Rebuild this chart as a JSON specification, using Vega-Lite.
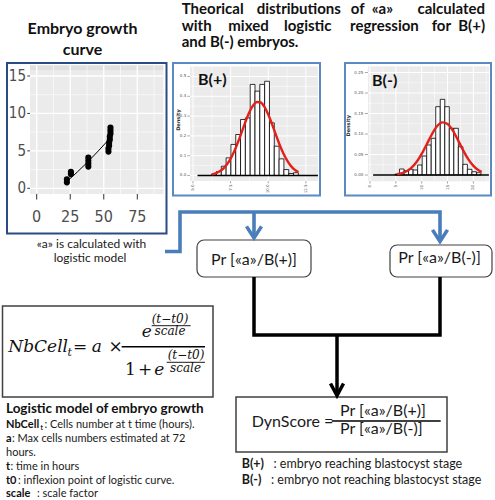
{
"$schema":"https://vega.github.io/schema/vega-lite/v6.json",
"width":495,"height":500,"padding":0,
"autosize":{"type":"none"},
"background":"#ffffff",
"config":{"view":{"stroke":null},"axis":{"disable":true}},
"datasets":{
"g_panel":[{"hours":-5,"hours2":94.5,"cells":-0.75,"cells2":15.75}],
"g_strip":[{"hours":-5,"hours2":94.5,"cells":15.75,"cells2":16.45}],
"g_grid":[
{"level":"minor","hours":12.5,"hours2":12.5,"cells":-0.75,"cells2":16.45},
{"level":"minor","hours":37.5,"hours2":37.5,"cells":-0.75,"cells2":16.45},
{"level":"minor","hours":62.5,"hours2":62.5,"cells":-0.75,"cells2":16.45},
{"level":"minor","hours":87.5,"hours2":87.5,"cells":-0.75,"cells2":16.45},
{"level":"minor","hours":-5,"hours2":94.5,"cells":2.5,"cells2":2.5},
{"level":"minor","hours":-5,"hours2":94.5,"cells":7.5,"cells2":7.5},
{"level":"minor","hours":-5,"hours2":94.5,"cells":12.5,"cells2":12.5},
{"level":"major","hours":0,"hours2":0,"cells":-0.75,"cells2":16.45},
{"level":"major","hours":25,"hours2":25,"cells":-0.75,"cells2":16.45},
{"level":"major","hours":50,"hours2":50,"cells":-0.75,"cells2":16.45},
{"level":"major","hours":75,"hours2":75,"cells":-0.75,"cells2":16.45},
{"level":"major","hours":-5,"hours2":94.5,"cells":0,"cells2":0},
{"level":"major","hours":-5,"hours2":94.5,"cells":5,"cells2":5},
{"level":"major","hours":-5,"hours2":94.5,"cells":10,"cells2":10},
{"level":"major","hours":-5,"hours2":94.5,"cells":15,"cells2":15},
{"level":"tick","hours":-7,"hours2":-5,"cells":0,"cells2":0},
{"level":"tick","hours":-7,"hours2":-5,"cells":5,"cells2":5},
{"level":"tick","hours":-7,"hours2":-5,"cells":10,"cells2":10},
{"level":"tick","hours":-7,"hours2":-5,"cells":15,"cells2":15},
{"level":"tick","hours":0,"hours2":0,"cells":-0.75,"cells2":-1.5},
{"level":"tick","hours":25,"hours2":25,"cells":-0.75,"cells2":-1.5},
{"level":"tick","hours":50,"hours2":50,"cells":-0.75,"cells2":-1.5},
{"level":"tick","hours":75,"hours2":75,"cells":-0.75,"cells2":-1.5}],
"g_ylab":[{"hours":-8,"cells":0,"label":"0"},{"hours":-8,"cells":5,"label":"5"},{"hours":-8,"cells":10,"label":"10"},{"hours":-8,"cells":15,"label":"15"}],
"g_xlab":[{"hours":0,"cells":-3.9,"label":"0"},{"hours":25,"cells":-3.9,"label":"25"},{"hours":50,"cells":-3.9,"label":"50"},{"hours":75,"cells":-3.9,"label":"75"}],
"g_fit":[{"hours":22.5,"cells":0.9},{"hours":38.5,"cells":3.6},{"hours":54.7,"cells":6.7}],
"g_points":[
{"hours":22.5,"cells":0.8},{"hours":22.5,"cells":1.2},{"hours":25.5,"cells":1.9},{"hours":25.5,"cells":2.2},
{"hours":38.5,"cells":2.9},{"hours":38.5,"cells":3.3},{"hours":38.5,"cells":3.7},{"hours":38.5,"cells":4.1},
{"hours":53.5,"cells":4.9},{"hours":53.5,"cells":5.3},{"hours":54,"cells":5.7},{"hours":54,"cells":6.1},
{"hours":54.5,"cells":6.5},{"hours":54.5,"cells":6.9},{"hours":55,"cells":7.3},{"hours":55,"cells":7.7},{"hours":55,"cells":8.1}],
"bp_panel":[{"a":4.8,"a2":13.3,"density":-0.028,"density2":0.55}],
"bp_grid":[
{"level":"minor","a":6.25,"a2":6.25,"density":-0.028,"density2":0.55},
{"level":"minor","a":8.75,"a2":8.75,"density":-0.028,"density2":0.55},
{"level":"minor","a":11.25,"a2":11.25,"density":-0.028,"density2":0.55},
{"level":"minor","a":4.8,"a2":13.3,"density":0.05,"density2":0.05},
{"level":"minor","a":4.8,"a2":13.3,"density":0.15,"density2":0.15},
{"level":"minor","a":4.8,"a2":13.3,"density":0.25,"density2":0.25},
{"level":"minor","a":4.8,"a2":13.3,"density":0.35,"density2":0.35},
{"level":"minor","a":4.8,"a2":13.3,"density":0.45,"density2":0.45},
{"level":"major","a":5,"a2":5,"density":-0.028,"density2":0.55},
{"level":"major","a":7.5,"a2":7.5,"density":-0.028,"density2":0.55},
{"level":"major","a":10,"a2":10,"density":-0.028,"density2":0.55},
{"level":"major","a":12.5,"a2":12.5,"density":-0.028,"density2":0.55},
{"level":"major","a":4.8,"a2":13.3,"density":0,"density2":0},
{"level":"major","a":4.8,"a2":13.3,"density":0.1,"density2":0.1},
{"level":"major","a":4.8,"a2":13.3,"density":0.2,"density2":0.2},
{"level":"major","a":4.8,"a2":13.3,"density":0.3,"density2":0.3},
{"level":"major","a":4.8,"a2":13.3,"density":0.4,"density2":0.4},
{"level":"major","a":4.8,"a2":13.3,"density":0.5,"density2":0.5},
{"level":"tick","a":4.62,"a2":4.8,"density":0,"density2":0},
{"level":"tick","a":4.62,"a2":4.8,"density":0.1,"density2":0.1},
{"level":"tick","a":4.62,"a2":4.8,"density":0.2,"density2":0.2},
{"level":"tick","a":4.62,"a2":4.8,"density":0.3,"density2":0.3},
{"level":"tick","a":4.62,"a2":4.8,"density":0.4,"density2":0.4},
{"level":"tick","a":4.62,"a2":4.8,"density":0.5,"density2":0.5},
{"level":"tick","a":5,"a2":5,"density":-0.028,"density2":-0.04},
{"level":"tick","a":7.5,"a2":7.5,"density":-0.028,"density2":-0.04},
{"level":"tick","a":10,"a2":10,"density":-0.028,"density2":-0.04},
{"level":"tick","a":12.5,"a2":12.5,"density":-0.028,"density2":-0.04}],
"bp_ylab":[{"a":4.55,"density":0,"label":"0.0"},{"a":4.55,"density":0.1,"label":"0.1"},{"a":4.55,"density":0.2,"label":"0.2"},{"a":4.55,"density":0.3,"label":"0.3"},{"a":4.55,"density":0.4,"label":"0.4"},{"a":4.55,"density":0.5,"label":"0.5"}],
"bp_xlab":[{"a":5,"density":-0.045,"label":"5.0"},{"a":7.5,"density":-0.045,"label":"7.5"},{"a":10,"density":-0.045,"label":"10.0"},{"a":12.5,"density":-0.045,"label":"12.5"}],
"bp_ytitle":[{"a":4.0,"density":0.28,"label":"Density"}],
"bp_bins":[
{"a":6.24,"a2":6.56,"density":0.007},{"a":6.56,"a2":6.88,"density":0.02},{"a":6.88,"a2":7.2,"density":0.047},
{"a":7.2,"a2":7.52,"density":0.089},{"a":7.52,"a2":7.84,"density":0.157},{"a":7.84,"a2":8.16,"density":0.207},
{"a":8.16,"a2":8.48,"density":0.283},{"a":8.48,"a2":8.8,"density":0.291},{"a":8.8,"a2":9.12,"density":0.46},
{"a":9.12,"a2":9.44,"density":0.426},{"a":9.44,"a2":9.76,"density":0.46},{"a":9.76,"a2":10.08,"density":0.476},
{"a":10.08,"a2":10.4,"density":0.266},{"a":10.4,"a2":10.72,"density":0.148},{"a":10.72,"a2":11.04,"density":0.084},
{"a":11.04,"a2":11.36,"density":0.03},{"a":11.36,"a2":11.68,"density":0.01},{"a":11.68,"a2":12.0,"density":0.014}],
"bp_base":[{"a":5.3,"a2":13.3,"density":0,"density2":0}],
"bp_curve":[
{"a":6.25,"density":0.0058},{"a":6.5,"density":0.011},{"a":6.75,"density":0.0199},{"a":7.0,"density":0.0341},
{"a":7.25,"density":0.0553},{"a":7.5,"density":0.085},{"a":7.75,"density":0.1236},{"a":8.0,"density":0.1702},
{"a":8.25,"density":0.2219},{"a":8.5,"density":0.274},{"a":8.75,"density":0.3202},{"a":9.0,"density":0.3545},
{"a":9.25,"density":0.3715},{"a":9.5,"density":0.3687},{"a":9.75,"density":0.3464},{"a":10.0,"density":0.3082},
{"a":10.25,"density":0.2597},{"a":10.5,"density":0.2071},{"a":10.75,"density":0.1565},{"a":11.0,"density":0.112},
{"a":11.25,"density":0.0758},{"a":11.5,"density":0.0486},{"a":11.75,"density":0.0295},{"a":12.0,"density":0.017}],
"bm_panel":[{"a":-0.4,"a2":23.0,"density":-0.015,"density2":0.265}],
"bm_grid":[
{"level":"minor","a":2.5,"a2":2.5,"density":-0.015,"density2":0.265},
{"level":"minor","a":7.5,"a2":7.5,"density":-0.015,"density2":0.265},
{"level":"minor","a":12.5,"a2":12.5,"density":-0.015,"density2":0.265},
{"level":"minor","a":17.5,"a2":17.5,"density":-0.015,"density2":0.265},
{"level":"minor","a":22.5,"a2":22.5,"density":-0.015,"density2":0.265},
{"level":"minor","a":-0.4,"a2":23.0,"density":0.025,"density2":0.025},
{"level":"minor","a":-0.4,"a2":23.0,"density":0.075,"density2":0.075},
{"level":"minor","a":-0.4,"a2":23.0,"density":0.125,"density2":0.125},
{"level":"minor","a":-0.4,"a2":23.0,"density":0.175,"density2":0.175},
{"level":"minor","a":-0.4,"a2":23.0,"density":0.225,"density2":0.225},
{"level":"major","a":0,"a2":0,"density":-0.015,"density2":0.265},
{"level":"major","a":5,"a2":5,"density":-0.015,"density2":0.265},
{"level":"major","a":10,"a2":10,"density":-0.015,"density2":0.265},
{"level":"major","a":15,"a2":15,"density":-0.015,"density2":0.265},
{"level":"major","a":20,"a2":20,"density":-0.015,"density2":0.265},
{"level":"major","a":-0.4,"a2":23.0,"density":0,"density2":0},
{"level":"major","a":-0.4,"a2":23.0,"density":0.05,"density2":0.05},
{"level":"major","a":-0.4,"a2":23.0,"density":0.1,"density2":0.1},
{"level":"major","a":-0.4,"a2":23.0,"density":0.15,"density2":0.15},
{"level":"major","a":-0.4,"a2":23.0,"density":0.2,"density2":0.2},
{"level":"major","a":-0.4,"a2":23.0,"density":0.25,"density2":0.25},
{"level":"tick","a":-1.0,"a2":-0.4,"density":0,"density2":0},
{"level":"tick","a":-1.0,"a2":-0.4,"density":0.05,"density2":0.05},
{"level":"tick","a":-1.0,"a2":-0.4,"density":0.1,"density2":0.1},
{"level":"tick","a":-1.0,"a2":-0.4,"density":0.15,"density2":0.15},
{"level":"tick","a":-1.0,"a2":-0.4,"density":0.2,"density2":0.2},
{"level":"tick","a":-1.0,"a2":-0.4,"density":0.25,"density2":0.25},
{"level":"tick","a":0,"a2":0,"density":-0.015,"density2":-0.021},
{"level":"tick","a":5,"a2":5,"density":-0.015,"density2":-0.021},
{"level":"tick","a":10,"a2":10,"density":-0.015,"density2":-0.021},
{"level":"tick","a":15,"a2":15,"density":-0.015,"density2":-0.021},
{"level":"tick","a":20,"a2":20,"density":-0.015,"density2":-0.021}],
"bm_ylab":[{"a":-1.3,"density":0,"label":"0.00"},{"a":-1.3,"density":0.05,"label":"0.05"},{"a":-1.3,"density":0.1,"label":"0.10"},{"a":-1.3,"density":0.15,"label":"0.15"},{"a":-1.3,"density":0.2,"label":"0.20"},{"a":-1.3,"density":0.25,"label":"0.25"}],
"bm_xlab":[{"a":0,"density":-0.024,"label":"0"},{"a":5,"density":-0.024,"label":"5"},{"a":10,"density":-0.024,"label":"10"},{"a":15,"density":-0.024,"label":"15"},{"a":20,"density":-0.024,"label":"20"}],
"bm_ytitle":[{"a":-4.2,"density":0.12,"label":"Density"}],
"bm_bins":[
{"a":4.84,"a2":5.715,"density":0.0024},{"a":5.715,"a2":6.59,"density":0.0146},{"a":6.59,"a2":7.465,"density":0.0105},
{"a":7.465,"a2":8.34,"density":0.0139},{"a":8.34,"a2":9.215,"density":0.0122},{"a":9.215,"a2":10.09,"density":0.0244},
{"a":10.09,"a2":10.965,"density":0.0463},{"a":10.965,"a2":11.84,"density":0.0732},{"a":11.84,"a2":12.715,"density":0.0895},
{"a":12.715,"a2":13.59,"density":0.1666},{"a":13.59,"a2":14.465,"density":0.1846},{"a":14.465,"a2":15.34,"density":0.1666},
{"a":15.34,"a2":16.215,"density":0.1139},{"a":16.215,"a2":17.09,"density":0.1139},{"a":17.09,"a2":17.965,"density":0.069},
{"a":17.965,"a2":18.84,"density":0.026},{"a":18.84,"a2":19.715,"density":0.0139},{"a":19.715,"a2":20.59,"density":0.008},
{"a":20.59,"a2":21.465,"density":0.0056}],
"bm_base":[{"a":0.6,"a2":23.0,"density":0,"density2":0}],
"bm_curve":[
{"a":5.25,"density":0.002},{"a":6,"density":0.0039},{"a":7,"density":0.0087},{"a":8,"density":0.0174},
{"a":9,"density":0.0315},{"a":10,"density":0.0514},{"a":11,"density":0.0755},{"a":12,"density":0.1},
{"a":13,"density":0.1194},{"a":14,"density":0.1284},{"a":15,"density":0.1245},{"a":16,"density":0.1087},
{"a":17,"density":0.0856},{"a":18,"density":0.0607},{"a":19,"density":0.0388},{"a":20,"density":0.0224},
{"a":21,"density":0.0116},{"a":21.6,"density":0.0075}],
"frames":[{"name":"growth","x":7,"x2":166.5,"y":63,"y2":233.5},{"name":"bplus","x":173,"x2":320,"y":63,"y2":195.5},{"name":"bminus","x":345,"x2":491,"y":63,"y2":195.5}],
"pr_boxes":[{"x":197,"x2":311,"y":240,"y2":277},{"x":390,"x2":492,"y":245,"y2":277}],
"sq_boxes":[{"x":2.5,"x2":213,"y":306,"y2":397},{"x":236,"x2":447,"y":397,"y2":452}],
"blue_path":[
{"path":"a","seq":1,"x":165,"y":251.5},{"path":"a","seq":2,"x":180,"y":251.5},{"path":"a","seq":3,"x":180,"y":212},
{"path":"a","seq":4,"x":440,"y":212},{"path":"a","seq":5,"x":440,"y":239},
{"path":"b","seq":1,"x":254,"y":212},{"path":"b","seq":2,"x":254,"y":236}],
"blue_heads":[{"x":254,"y":238},{"x":440,"y":241.5}],
"black_path":[
{"path":"c","seq":1,"x":254,"y":277},{"path":"c","seq":2,"x":254,"y":335},{"path":"c","seq":3,"x":440,"y":335},{"path":"c","seq":4,"x":440,"y":277},
{"path":"d","seq":1,"x":337,"y":335},{"path":"d","seq":2,"x":337,"y":393}],
"black_head":[{"x":337,"y":395.5}],
"frac_thick":[{"x":331.7,"x2":440.7,"y":421,"y2":421},{"x":121.7,"x2":205,"y":346.7,"y2":346.7}],
"frac_thin":[{"x":151.7,"x2":190.7,"y":325.7,"y2":325.7},{"x":166.7,"x2":205,"y":362.3,"y2":362.3}],
"t_head":[
{"x":181.7,"y":14,"text":"Theorical"},{"x":256.7,"y":14,"text":"distributions"},{"x":350.7,"y":14,"text":"of"},{"x":371.7,"y":14,"text":"«a»"},
{"x":181.7,"y":30.7,"text":"with"},{"x":228.3,"y":30.7,"text":"mixed"},{"x":284,"y":30.7,"text":"logistic"},{"x":350,"y":30.7,"text":"regression"},{"x":431.7,"y":30.7,"text":"for"},
{"x":181.7,"y":47.3,"text":"and B(-) embryos."}],
"t_head_r":[{"x":485,"y":14,"text":"calculated"},{"x":485,"y":30.7,"text":"B(+)"}],
"t_gtitle":[{"x":82.5,"y":34.3,"text":"Embryo growth"},{"x":82.5,"y":55,"text":"curve"}],
"t_ptitle":[{"x":198,"y":85,"text":"B(+)"},{"x":372,"y":86,"text":"B(-)"}],
"t_calc":[{"x":91.5,"y":247.7,"text":"«a» is calculated with"},{"x":90,"y":261.7,"text":"logistic model"}],
"t_pr":[{"x":254,"y":265,"text":"Pr [«a»/B(+)]"},{"x":439.5,"y":263.3,"text":"Pr [«a»/B(-)]"}],
"t_dyn":[{"x":251.7,"y":427.3,"text":"DynScore ="},{"x":340,"y":416,"text":"Pr [«a»/B(+)]"},{"x":340,"y":434.3,"text":"Pr [«a»/B(-)]"}],
"t_leg_b":[{"x":241.7,"y":468.3,"text":"B(+)"},{"x":241.7,"y":484,"text":"B(-)"}],
"t_leg_r":[{"x":273.5,"y":468.3,"text":": embryo reaching blastocyst stage"},{"x":271,"y":484,"text":": embryo not reaching blastocyst stage"}],
"t_f_it":[{"x":8.3,"y":352.3,"text":"NbCell"},{"x":91.7,"y":352.3,"text":"a"},{"x":141.7,"y":337,"text":"e"},{"x":154.3,"y":375,"text":"e"}],
"t_f_up":[{"x":80,"y":352.3,"text":"="},{"x":115.5,"y":352.3,"text":"×"},{"x":130.5,"y":375,"text":"1"},{"x":145,"y":375,"text":"+"}],
"t_f_sub":[{"x":67.5,"y":356,"text":"t"}],
"t_f_exp":[{"x":170,"y":322.5,"text":"(t−t0)"},{"x":170,"y":335,"text":"scale"},{"x":186,"y":359,"text":"(t−t0)"},{"x":185.5,"y":372,"text":"scale"}],
"t_lm_title":[{"x":6,"y":412.7,"text":"Logistic model of embryo growth"}],
"t_lm_b":[{"x":6,"y":428.3,"text":"NbCell"},{"x":6,"y":442.3,"text":"a"},{"x":6,"y":470,"text":"t"},{"x":6,"y":484,"text":"t0"},{"x":6,"y":497.3,"text":"scale"}],
"t_lm_sub":[{"x":40.5,"y":430,"text":"t"}],
"t_lm_r":[{"x":44.5,"y":428.3,"text":": Cells number at t time (hours)."},{"x":12,"y":442.3,"text":": Max cells numbers estimated  at 72"},{"x":6,"y":456,"text":"hours."},{"x":10.5,"y":470,"text":": time  in hours"},{"x":18,"y":484,"text":": inflexion point of logistic curve."},{"x":37,"y":497.3,"text":": scale factor"}]
},
"layer":[
{
"encoding":{
"x":{"field":"hours","type":"quantitative","scale":{"domain":[-27.362,341.683],"nice":false,"zero":false},"axis":null},
"y":{"field":"cells","type":"quantitative","scale":{"domain":[-41.632,25.15],"nice":false,"zero":false},"axis":null}},
"layer":[
{"data":{"name":"g_panel"},"mark":{"type":"rect","color":"#ebebeb"},"encoding":{"x2":{"field":"hours2"},"y2":{"field":"cells2"}}},
{"data":{"name":"g_strip"},"mark":{"type":"rect","color":"#e0e0e0"},"encoding":{"x2":{"field":"hours2"},"y2":{"field":"cells2"}}},
{"data":{"name":"g_grid"},"transform":[{"filter":"datum.level==='minor'"}],"mark":{"type":"rule","color":"#ffffff","strokeWidth":0.6},"encoding":{"x2":{"field":"hours2"},"y2":{"field":"cells2"}}},
{"data":{"name":"g_grid"},"transform":[{"filter":"datum.level==='major'"}],"mark":{"type":"rule","color":"#ffffff","strokeWidth":1.3},"encoding":{"x2":{"field":"hours2"},"y2":{"field":"cells2"}}},
{"data":{"name":"g_grid"},"transform":[{"filter":"datum.level==='tick'"}],"mark":{"type":"rule","color":"#333333","strokeWidth":1},"encoding":{"x2":{"field":"hours2"},"y2":{"field":"cells2"}}},
{"data":{"name":"g_ylab"},"mark":{"type":"text","align":"right","baseline":"middle","font":"Liberation Sans Narrow, DejaVu Sans Condensed, sans-serif","fontSize":15,"color":"#4d4d4d"},"encoding":{"text":{"field":"label"}}},
{"data":{"name":"g_xlab"},"mark":{"type":"text","align":"center","baseline":"middle","font":"Liberation Sans Narrow, DejaVu Sans Condensed, sans-serif","fontSize":16,"color":"#4d4d4d"},"encoding":{"text":{"field":"label"}}},
{"data":{"name":"g_fit"},"mark":{"type":"line","color":"#000000","strokeWidth":1,"interpolate":"monotone"},"encoding":{"order":{"field":"hours"}}},
{"data":{"name":"g_points"},"mark":{"type":"circle","color":"#000000","opacity":1,"size":38}}
]},
{
"encoding":{
"x":{"field":"a","type":"quantitative","scale":{"domain":[-7.824,25.066],"nice":false,"zero":false},"axis":null},
"y":{"field":"density","type":"quantitative","scale":{"domain":[-1.6389,0.88636],"nice":false,"zero":false},"axis":null}},
"layer":[
{"data":{"name":"bp_panel"},"mark":{"type":"rect","color":"#ebebeb"},"encoding":{"x2":{"field":"a2"},"y2":{"field":"density2"}}},
{"data":{"name":"bp_grid"},"transform":[{"filter":"datum.level==='minor'"}],"mark":{"type":"rule","color":"#ffffff","strokeWidth":0.5},"encoding":{"x2":{"field":"a2"},"y2":{"field":"density2"}}},
{"data":{"name":"bp_grid"},"transform":[{"filter":"datum.level==='major'"}],"mark":{"type":"rule","color":"#ffffff","strokeWidth":1},"encoding":{"x2":{"field":"a2"},"y2":{"field":"density2"}}},
{"data":{"name":"bp_grid"},"transform":[{"filter":"datum.level==='tick'"}],"mark":{"type":"rule","color":"#555555","strokeWidth":0.5},"encoding":{"x2":{"field":"a2"},"y2":{"field":"density2"}}},
{"data":{"name":"bp_ylab"},"mark":{"type":"text","align":"right","baseline":"middle","font":"DejaVu Sans","fontSize":4,"color":"#555555"},"encoding":{"text":{"field":"label"}}},
{"data":{"name":"bp_xlab"},"mark":{"type":"text","align":"right","baseline":"middle","angle":270,"font":"DejaVu Sans","fontSize":4,"color":"#555555"},"encoding":{"text":{"field":"label"}}},
{"data":{"name":"bp_ytitle"},"mark":{"type":"text","align":"center","baseline":"middle","angle":270,"font":"DejaVu Sans","fontSize":5,"fontWeight":"bold","color":"#333333"},"encoding":{"text":{"field":"label"}}},
{"data":{"name":"bp_bins"},"mark":{"type":"rect","fill":"#ffffff","stroke":"#000000","strokeWidth":0.8},"encoding":{"x2":{"field":"a2"},"y2":{"datum":0}}},
{"data":{"name":"bp_base"},"mark":{"type":"rule","color":"#000000","strokeWidth":1.6},"encoding":{"x2":{"field":"a2"},"y2":{"field":"density2"}}},
{"data":{"name":"bp_curve"},"mark":{"type":"line","color":"#e3211c","strokeWidth":2.4,"interpolate":"monotone"},"encoding":{"order":{"field":"a"}}}
]},
{
"encoding":{
"x":{"field":"a","type":"quantitative","scale":{"domain":[-71.567,24.178],"nice":false,"zero":false},"axis":null},
"y":{"field":"density","type":"quantitative","scale":{"domain":[-0.79268,0.42683],"nice":false,"zero":false},"axis":null}},
"layer":[
{"data":{"name":"bm_panel"},"mark":{"type":"rect","color":"#ebebeb"},"encoding":{"x2":{"field":"a2"},"y2":{"field":"density2"}}},
{"data":{"name":"bm_grid"},"transform":[{"filter":"datum.level==='minor'"}],"mark":{"type":"rule","color":"#ffffff","strokeWidth":0.5},"encoding":{"x2":{"field":"a2"},"y2":{"field":"density2"}}},
{"data":{"name":"bm_grid"},"transform":[{"filter":"datum.level==='major'"}],"mark":{"type":"rule","color":"#ffffff","strokeWidth":1},"encoding":{"x2":{"field":"a2"},"y2":{"field":"density2"}}},
{"data":{"name":"bm_grid"},"transform":[{"filter":"datum.level==='tick'"}],"mark":{"type":"rule","color":"#555555","strokeWidth":0.5},"encoding":{"x2":{"field":"a2"},"y2":{"field":"density2"}}},
{"data":{"name":"bm_ylab"},"mark":{"type":"text","align":"right","baseline":"middle","font":"DejaVu Sans","fontSize":4,"color":"#555555"},"encoding":{"text":{"field":"label"}}},
{"data":{"name":"bm_xlab"},"mark":{"type":"text","align":"right","baseline":"middle","angle":270,"font":"DejaVu Sans","fontSize":4,"color":"#555555"},"encoding":{"text":{"field":"label"}}},
{"data":{"name":"bm_ytitle"},"mark":{"type":"text","align":"center","baseline":"middle","angle":270,"font":"DejaVu Sans","fontSize":5,"fontWeight":"bold","color":"#333333"},"encoding":{"text":{"field":"label"}}},
{"data":{"name":"bm_bins"},"mark":{"type":"rect","fill":"#ffffff","stroke":"#000000","strokeWidth":0.8},"encoding":{"x2":{"field":"a2"},"y2":{"datum":0}}},
{"data":{"name":"bm_base"},"mark":{"type":"rule","color":"#000000","strokeWidth":1.6},"encoding":{"x2":{"field":"a2"},"y2":{"field":"density2"}}},
{"data":{"name":"bm_curve"},"mark":{"type":"line","color":"#e3211c","strokeWidth":2.4,"interpolate":"monotone"},"encoding":{"order":{"field":"a"}}}
]},
{
"encoding":{
"x":{"field":"x","type":"quantitative","scale":{"domain":[0,495],"nice":false,"zero":false},"axis":null},
"y":{"field":"y","type":"quantitative","scale":{"domain":[0,500],"reverse":true,"nice":false,"zero":false},"axis":null}},
"layer":[
{"data":{"name":"frames"},"transform":[{"filter":"datum.name==='growth'"}],"mark":{"type":"rect","fill":"transparent","stroke":"#2a4c84","strokeWidth":2},"encoding":{"x2":{"field":"x2"},"y2":{"field":"y2"}}},
{"data":{"name":"frames"},"transform":[{"filter":"datum.name!=='growth'"}],"mark":{"type":"rect","fill":"transparent","stroke":"#5a89c3","strokeWidth":2},"encoding":{"x2":{"field":"x2"},"y2":{"field":"y2"}}},
{"data":{"name":"pr_boxes"},"mark":{"type":"rect","fill":"#ffffff","stroke":"#404040","strokeWidth":1.2,"cornerRadius":7},"encoding":{"x2":{"field":"x2"},"y2":{"field":"y2"}}},
{"data":{"name":"sq_boxes"},"mark":{"type":"rect","fill":"transparent","stroke":"#404040","strokeWidth":1.5},"encoding":{"x2":{"field":"x2"},"y2":{"field":"y2"}}},
{"data":{"name":"blue_path"},"mark":{"type":"line","color":"#4a7ebb","strokeWidth":3.6,"strokeJoin":"miter"},"encoding":{"detail":{"field":"path"},"order":{"field":"seq"}}},
{"data":{"name":"blue_heads"},"mark":{"type":"point","shape":"M -1 -1.55 L 0 0 L 1 -1.55","filled":false,"color":"#4a7ebb","strokeWidth":3.6,"size":225,"opacity":1,"strokeJoin":"miter"}},
{"data":{"name":"black_path"},"mark":{"type":"line","color":"#000000","strokeWidth":3.5,"strokeJoin":"miter"},"encoding":{"detail":{"field":"path"},"order":{"field":"seq"}}},
{"data":{"name":"black_head"},"mark":{"type":"point","shape":"M -1 -1.85 L 0 0 L 1 -1.85","filled":false,"color":"#000000","strokeWidth":3.5,"size":169,"opacity":1,"strokeJoin":"miter"}},
{"data":{"name":"frac_thick"},"mark":{"type":"rule","color":"#000000","strokeWidth":1.6},"encoding":{"x2":{"field":"x2"},"y2":{"field":"y2"}}},
{"data":{"name":"frac_thin"},"mark":{"type":"rule","color":"#000000","strokeWidth":0.9},"encoding":{"x2":{"field":"x2"},"y2":{"field":"y2"}}},
{"data":{"name":"t_head"},"mark":{"type":"text","align":"left","baseline":"alphabetic","font":"Lato","fontWeight":"bold","fontSize":15,"color":"#111111"},"encoding":{"text":{"field":"text"}}},
{"data":{"name":"t_head_r"},"mark":{"type":"text","align":"right","baseline":"alphabetic","font":"Lato","fontWeight":"bold","fontSize":15,"color":"#111111"},"encoding":{"text":{"field":"text"}}},
{"data":{"name":"t_gtitle"},"mark":{"type":"text","align":"center","baseline":"alphabetic","font":"Lato","fontWeight":"bold","fontSize":16,"color":"#111111"},"encoding":{"text":{"field":"text"}}},
{"data":{"name":"t_ptitle"},"mark":{"type":"text","align":"left","baseline":"alphabetic","font":"Lato","fontWeight":"bold","fontSize":16,"color":"#111111"},"encoding":{"text":{"field":"text"}}},
{"data":{"name":"t_calc"},"mark":{"type":"text","align":"center","baseline":"alphabetic","font":"Lato","fontSize":12,"color":"#1a1a1a"},"encoding":{"text":{"field":"text"}}},
{"data":{"name":"t_pr"},"mark":{"type":"text","align":"center","baseline":"alphabetic","font":"Lato","fontSize":16,"color":"#1a1a1a"},"encoding":{"text":{"field":"text"}}},
{"data":{"name":"t_dyn"},"mark":{"type":"text","align":"left","baseline":"alphabetic","font":"Lato","fontSize":16,"color":"#1a1a1a"},"encoding":{"text":{"field":"text"}}},
{"data":{"name":"t_leg_b"},"mark":{"type":"text","align":"left","baseline":"alphabetic","font":"Lato","fontWeight":"bold","fontSize":12.5,"color":"#1a1a1a"},"encoding":{"text":{"field":"text"}}},
{"data":{"name":"t_leg_r"},"mark":{"type":"text","align":"left","baseline":"alphabetic","font":"Lato","fontSize":12.5,"color":"#1a1a1a"},"encoding":{"text":{"field":"text"}}},
{"data":{"name":"t_f_it"},"mark":{"type":"text","align":"left","baseline":"alphabetic","font":"DejaVu Serif","fontStyle":"italic","fontSize":17,"color":"#111111"},"encoding":{"text":{"field":"text"}}},
{"data":{"name":"t_f_up"},"mark":{"type":"text","align":"center","baseline":"alphabetic","font":"DejaVu Serif","fontSize":17,"color":"#111111"},"encoding":{"text":{"field":"text"}}},
{"data":{"name":"t_f_sub"},"mark":{"type":"text","align":"left","baseline":"alphabetic","font":"DejaVu Serif","fontStyle":"italic","fontSize":11,"color":"#111111"},"encoding":{"text":{"field":"text"}}},
{"data":{"name":"t_f_exp"},"mark":{"type":"text","align":"center","baseline":"alphabetic","font":"DejaVu Serif","fontStyle":"italic","fontSize":12,"color":"#111111"},"encoding":{"text":{"field":"text"}}},
{"data":{"name":"t_lm_title"},"mark":{"type":"text","align":"left","baseline":"alphabetic","font":"Lato","fontWeight":"bold","fontSize":13.5,"color":"#111111"},"encoding":{"text":{"field":"text"}}},
{"data":{"name":"t_lm_b"},"mark":{"type":"text","align":"left","baseline":"alphabetic","font":"Lato","fontWeight":"bold","fontSize":11,"color":"#111111"},"encoding":{"text":{"field":"text"}}},
{"data":{"name":"t_lm_sub"},"mark":{"type":"text","align":"left","baseline":"alphabetic","font":"Lato","fontWeight":"bold","fontSize":6.5,"color":"#111111"},"encoding":{"text":{"field":"text"}}},
{"data":{"name":"t_lm_r"},"mark":{"type":"text","align":"left","baseline":"alphabetic","font":"Lato","fontSize":11,"color":"#1a1a1a"},"encoding":{"text":{"field":"text"}}}
]}
],
"resolve":{"scale":{"x":"independent","y":"independent"}}
}
